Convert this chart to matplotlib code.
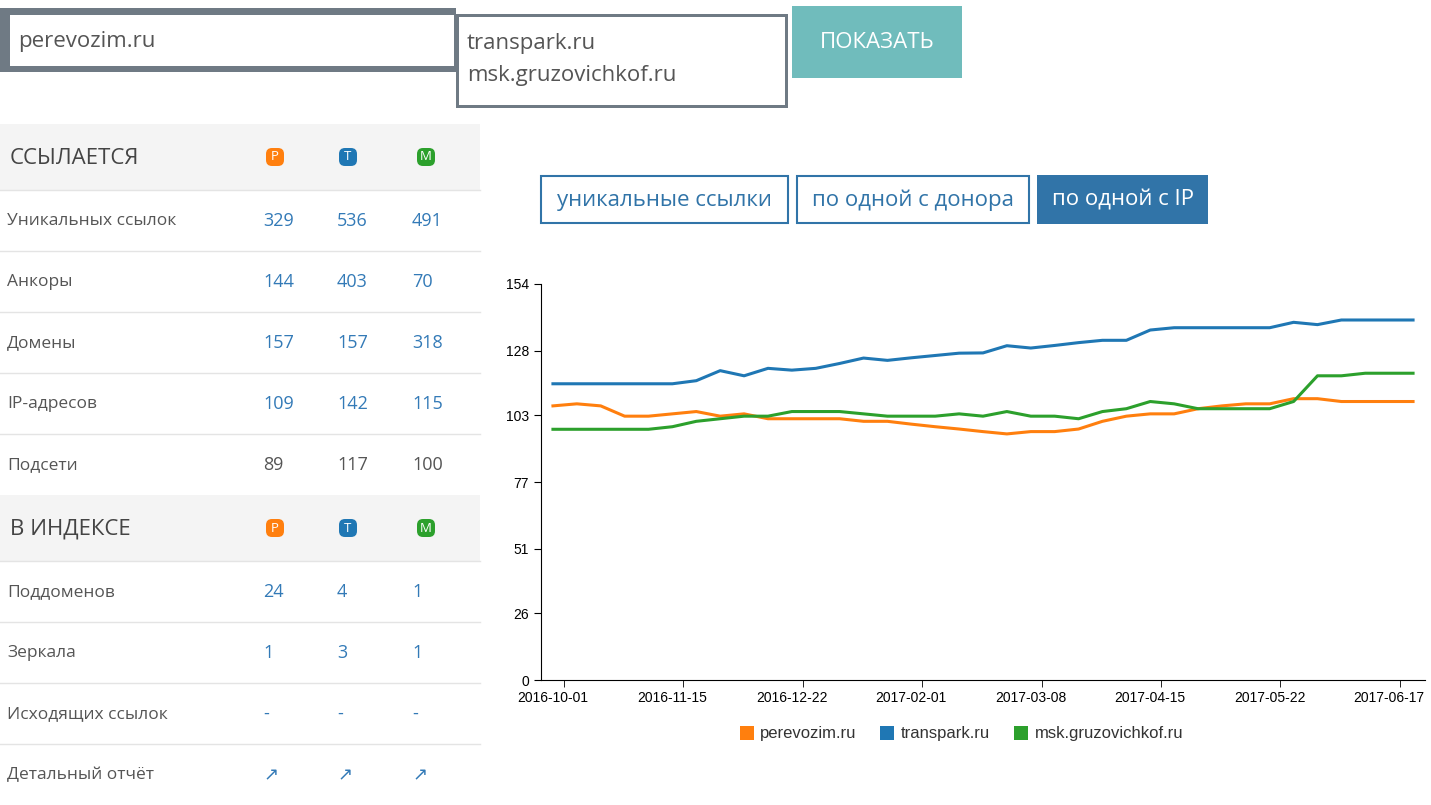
import matplotlib
matplotlib.use("Agg")
import matplotlib.pyplot as plt
from matplotlib.patches import Rectangle, FancyBboxPatch

W, H = 1431, 805
sites = ["perevozim.ru", "transpark.ru", "msk.gruzovichkof.ru"]
colors = ["#ff7f0e", "#1f77b4", "#2ca02c"]
tick_labels = ["2016-10-01", "2016-11-15", "2016-12-22", "2017-02-01",
               "2017-03-08", "2017-04-15", "2017-05-22", "2017-06-17"]
y_ticks = [0, 26, 51, 77, 103, 128, 154]

perevozim = [106.6, 107.4, 106.6, 102.6, 102.6, 103.5, 104.4, 102.6, 103.5, 101.6,
             101.6, 101.6, 101.6, 100.6, 100.6, 99.5, 98.5, 97.6, 96.6, 95.7,
             96.6, 96.6, 97.6, 100.6, 102.6, 103.5, 103.5, 105.5, 106.6, 107.4,
             107.4, 109.4, 109.4, 108.3, 108.3, 108.3, 108.3]
transpark = [115.2, 115.2, 115.2, 115.2, 115.2, 115.2, 116.4, 120.3, 118.3, 121.2,
             120.5, 121.2, 123.1, 125.2, 124.3, 125.3, 126.2, 127.1, 127.2, 130.0,
             129.1, 130.1, 131.2, 132.1, 132.1, 136.1, 137.0, 137.0, 137.0, 137.0,
             137.0, 139.1, 138.2, 140.0, 140.0, 140.0, 140.0]
gruzovichkof = [97.5, 97.5, 97.5, 97.5, 97.5, 98.5, 100.6, 101.6, 102.6, 102.6,
                104.4, 104.4, 104.4, 103.5, 102.6, 102.6, 102.6, 103.5, 102.6, 104.4,
                102.6, 102.6, 101.6, 104.4, 105.5, 108.3, 107.4, 105.5, 105.5, 105.5,
                105.5, 108.3, 118.3, 118.3, 119.3, 119.3, 119.3]
series = [perevozim, transpark, gruzovichkof]

sec1_title = "ССЫЛАЕТСЯ"
sec1_rows = ["Уникальных ссылок", "Анкоры", "Домены", "IP-адресов", "Подсети"]
sec1_vals = [["329", "536", "491"], ["144", "403", "70"], ["157", "157", "318"],
             ["109", "142", "115"], ["89", "117", "100"]]
sec2_title = "В ИНДЕКСЕ"
sec2_rows = ["Поддоменов", "Зеркала", "Исходящих ссылок", "Детальный отчёт"]
sec2_vals = [["24", "4", "1"], ["1", "3", "1"], ["-", "-", "-"], ["↗", "↗", "↗"]]
badges = ["P", "T", "M"]
toggles = ["уникальные ссылки", "по одной с донора", "по одной с IP"]

plt.rcParams['font.family'] = ['Open Sans', 'DejaVu Sans']
fig = plt.figure(figsize=(W / 100, H / 100), dpi=100)
bg = fig.add_axes([0, 0, 1, 1])
bg.set_xlim(0, W); bg.set_ylim(H, 0); bg.axis("off")

def rect(x0, y0, x1, y1, fc, ec="none", lw=0):
    bg.add_patch(Rectangle((x0, y0), x1 - x0, y1 - y0, fc=fc, ec=ec, lw=lw))

# top inputs
rect(0, 8, 456, 72, "#6f7a84")
rect(10, 15, 454, 66, "white")
bg.text(18, 42, sites[0], fontsize=16, color="#555555", va="center")
rect(456, 14, 788, 108, "#6f7a84")
rect(459, 17, 785, 105, "white")
bg.text(467, 44, sites[1], fontsize=16, color="#555555", va="center")
bg.text(467, 76, sites[2], fontsize=16, color="#555555", va="center")
rect(792, 6, 962, 78, "#70bcbc")
bg.text(877, 42, "ПОКАЗАТЬ", fontsize=16, color="white", ha="center", va="center")

# table
val_x = [263, 337, 412]
badge_x = [275, 348, 426]
def section(y0, title, rows, vals):
    rect(0, y0, 480, y0 + 66, "#f4f4f4")
    bg.text(10, y0 + 34, title, fontsize=16, color="#444444", va="center")
    for bx, b, c in zip(badge_x, badges, colors):
        bg.add_patch(FancyBboxPatch((bx - 6, y0 + 27), 12, 12,
                                    boxstyle="round,pad=3,rounding_size=6",
                                    fc=c, ec="none"))
        bg.text(bx, y0 + 33, b, fontsize=9.5, color="white", ha="center", va="center")
    y = y0 + 66
    for r, vs in zip(rows, vals):
        bg.plot([0, 480], [y, y], color="#e4e4e4", lw=1)
        bg.text(7, y + 31, r, fontsize=12.5, color="#555555", va="center")
        for vx, v in zip(val_x, vs):
            col = "#555555" if r == "Подсети" else "#337ab7"
            bg.text(vx, y + 31, v, fontsize=13, color=col, va="center")
        y += 61
    return y

end = section(124, sec1_title, sec1_rows, sec1_vals)
section(end, sec2_title, sec2_rows, sec2_vals)

# toggles
tb = [(540, 789), (796, 1030), (1037, 1208)]
for i, ((x0, x1), t) in enumerate(zip(tb, toggles)):
    if i == 2:
        rect(x0, 175, x1, 224, "#3174a8")
        c = "white"
    else:
        rect(x0 + 1, 176, x1 - 1, 223, "white", "#3174a8", 1.5)
        c = "#3174a8"
    bg.text((x0 + x1) / 2, 200, t, fontsize=16, color=c, ha="center", va="center")

# chart
ax = fig.add_axes([541 / W, (H - 680) / H, 884 / W, 396 / H])
x = list(range(len(perevozim)))
for s, c in zip(series, colors):
    ax.plot(x, s, color=c, lw=2.2)
ax.set_xlim(-0.5, 36.5)
ax.set_ylim(0, 154)
ax.set_yticks(y_ticks)
ax.set_xticks([5 * k for k in range(len(tick_labels))])
ax.set_xticklabels(tick_labels)
ax.set_xticks([0.45 + 5 * k for k in range(len(tick_labels))], minor=True)
ax.tick_params(axis="x", which="major", length=0, pad=8)
ax.tick_params(axis="x", which="minor", length=5)
for sp in ["top", "right"]:
    ax.spines[sp].set_visible(False)
ax.tick_params(labelsize=10)
ax.tick_params(axis="y", length=5)
for lab in ax.get_xticklabels() + ax.get_yticklabels():
    lab.set_fontfamily("Liberation Sans")

# legend
leg = [(740, 760), (880, 901), (1014, 1035)]
for (sx, tx), s, c in zip(leg, sites, colors):
    rect(sx, 726, sx + 14, 740, c)
    bg.text(tx, 733, s, fontsize=12, color="#333333", va="center",
            fontfamily="Liberation Sans")

fig.savefig("out.png", dpi=100)
